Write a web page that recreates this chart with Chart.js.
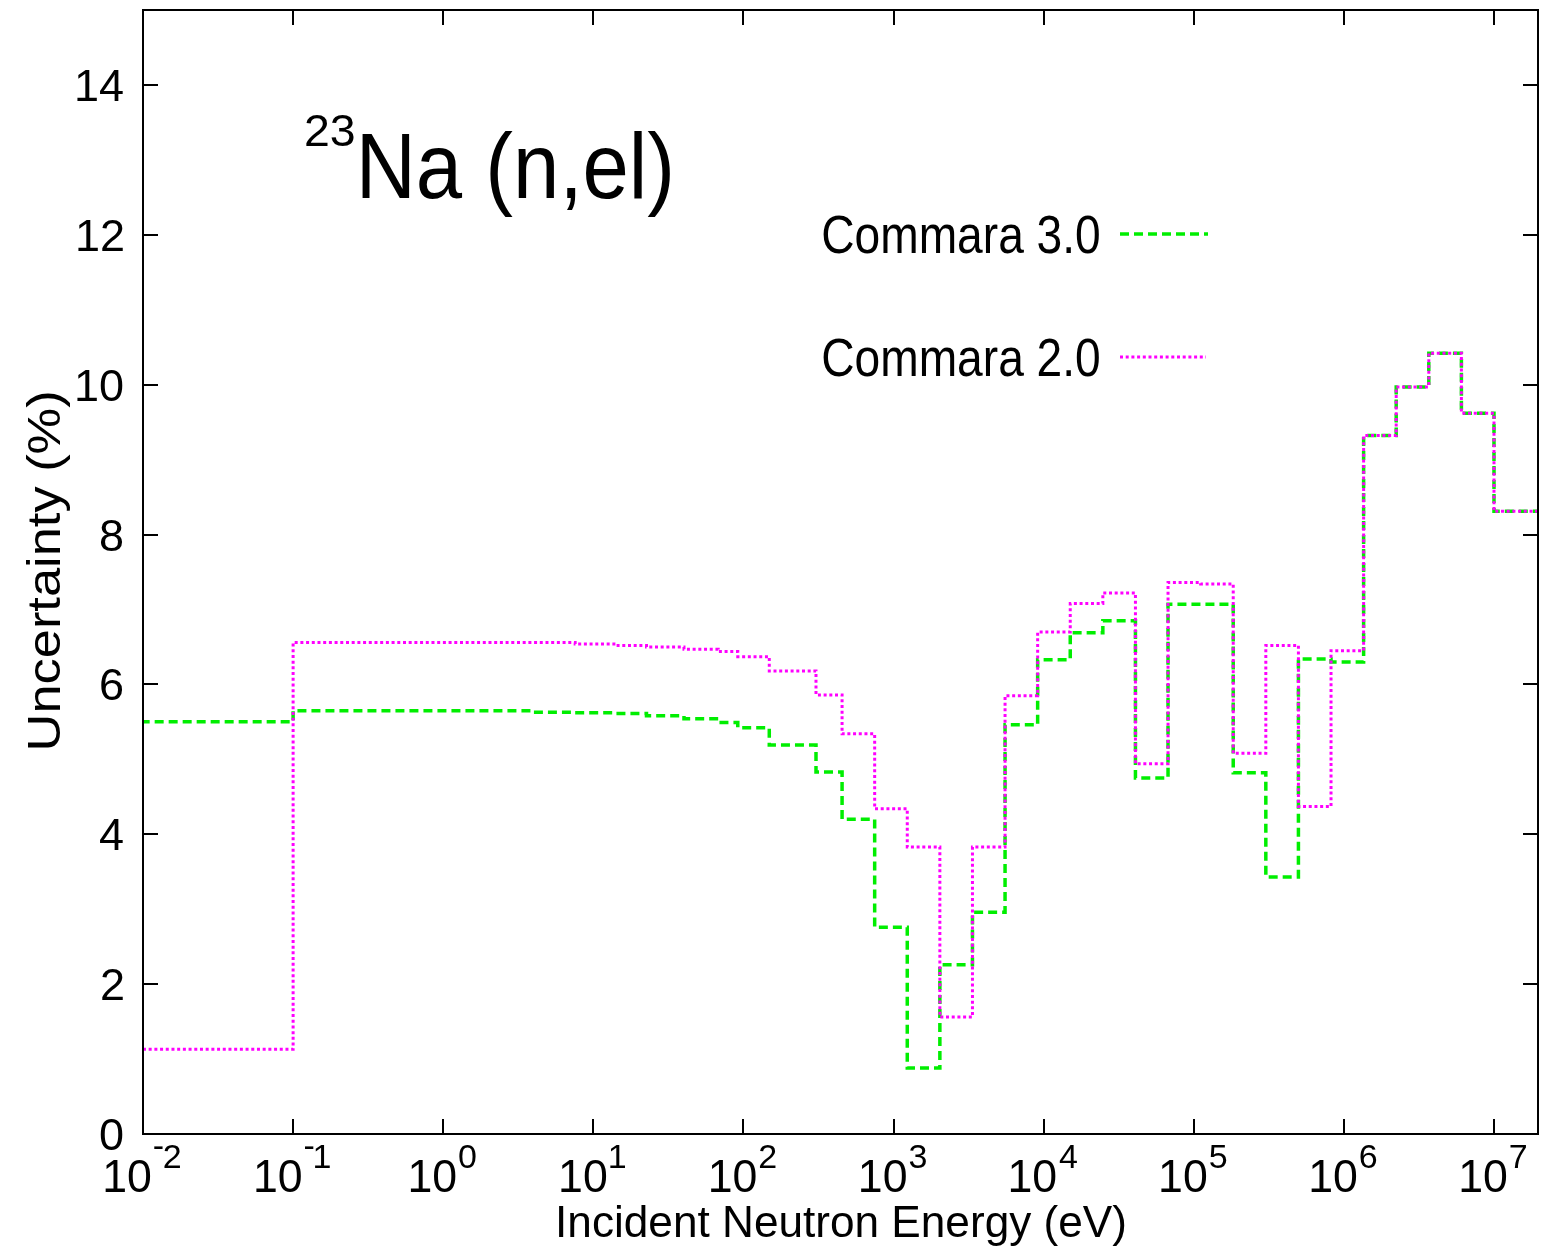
<!DOCTYPE html>
<html>
<head>
<meta charset="utf-8">
<script src="https://cdn.jsdelivr.net/npm/chart.js@4/dist/chart.umd.min.js"></script>
<style>
  html, body { margin: 0; padding: 0; background: #fff; }
  #wrap { width: 1554px; height: 1251px; }
</style>
</head>
<body>
<div id="wrap"><canvas id="uncChart" width="1554" height="1251"></canvas></div>
<script>
// 33-group energy boundaries (eV), ascending
const groupBounds = [1e-5, 0.1, 0.53158, 3.9279, 7.5674, 13.710, 22.603, 40.169, 67.904, 91.661,
  148.63, 304.32, 454.00, 748.52, 1234.1, 2034.7, 3354.6, 5530.8, 9118.8, 15034,
  24788, 40868, 67379, 111090, 183160, 301970, 497870, 820850, 1353400, 2231300,
  3678800, 6065300, 1.0e7, 1.964e7];

// group uncertainties (%), same order as groupBounds
const commara30 = [5.50, 5.65, 5.65, 5.63, 5.62, 5.61, 5.58, 5.54, 5.49, 5.42,
  5.19, 4.83, 4.20, 2.76, 0.88, 2.26, 2.96, 5.46, 6.33, 6.69,
  6.85, 4.75, 7.07, 7.07, 4.82, 3.43, 6.34, 6.30, 9.32, 9.97,
  10.42, 9.62, 8.31];
const commara20 = [1.13, 6.56, 6.56, 6.56, 6.54, 6.52, 6.50, 6.47, 6.44, 6.37,
  6.18, 5.86, 5.34, 4.34, 3.83, 1.56, 3.83, 5.85, 6.70, 7.08,
  7.22, 4.94, 7.36, 7.34, 5.08, 6.52, 4.37, 6.45, 9.32, 9.97,
  10.42, 9.62, 8.31];

const seriesNames = ['Commara 3.0', 'Commara 2.0'];
const xTickExps = [-2, -1, 0, 1, 2, 3, 4, 5, 6, 7];
const yTicks = [0, 2, 4, 6, 8, 10, 12, 14];
const xRange = [0.01, 1.964e7];
const yRange = [0, 15];

const FONT = '"Liberation Sans", Arial, Helvetica, sans-serif';
const GREEN = '#00ee00';
const MAGENTA = '#ff00ff';
const GREEN_DASH = [9, 5];
const MAGENTA_DASH = [3, 2.7];

// step histogram: one point per lower bound, plus the last upper bound
function toSteps(vals) {
  const pts = vals.map((v, i) => ({ x: groupBounds[i], y: v }));
  pts.push({ x: groupBounds[groupBounds.length - 1], y: vals[vals.length - 1] });
  return pts;
}

// draw text so its ink starts at `left`, optionally squeezed to a given ink width
function inkText(ctx, str, left, baseline, size, width) {
  ctx.font = size + 'px ' + FONT;
  ctx.textAlign = 'left';
  ctx.textBaseline = 'alphabetic';
  const m = ctx.measureText(str);
  const ink = m.actualBoundingBoxLeft + m.actualBoundingBoxRight;
  const sx = width ? width / ink : 1;
  ctx.save();
  ctx.translate(left, baseline);
  ctx.scale(sx, 1);
  ctx.fillText(str, m.actualBoundingBoxLeft, 0);
  ctx.restore();
  return ink * sx;
}

function inkWidth(ctx, str, size) {
  ctx.font = size + 'px ' + FONT;
  const m = ctx.measureText(str);
  return m.actualBoundingBoxLeft + m.actualBoundingBoxRight;
}

const framePlugin = {
  id: 'frame',
  afterDatasetsDraw(chart) {
    const { ctx, chartArea: a, scales: { x, y } } = chart;
    ctx.save();
    ctx.fillStyle = '#000';
    ctx.strokeStyle = '#000';
    ctx.lineWidth = 2;
    ctx.setLineDash([]);
    ctx.strokeRect(a.left, a.top, a.right - a.left, a.bottom - a.top);

    // inward ticks on all four sides
    const tl = 15;
    ctx.beginPath();
    yTicks.forEach(v => {
      const py = Math.round(y.getPixelForValue(v));
      ctx.moveTo(a.left, py); ctx.lineTo(a.left + tl, py);
      ctx.moveTo(a.right, py); ctx.lineTo(a.right - tl, py);
    });
    xTickExps.forEach(e => {
      const px = Math.round(x.getPixelForValue(Math.pow(10, e)));
      ctx.moveTo(px, a.bottom); ctx.lineTo(px, a.bottom - tl);
      ctx.moveTo(px, a.top); ctx.lineTo(px, a.top + tl);
    });
    ctx.stroke();

    // y tick labels
    yTicks.forEach(v => {
      const py = y.getPixelForValue(v);
      const s = String(v);
      const w = inkWidth(ctx, s, 45);
      inkText(ctx, s, a.left - 20 - w, py + 16, 45);
    });

    // x tick labels as 10 with a superscript exponent
    xTickExps.forEach(e => {
      const px = x.getPixelForValue(Math.pow(10, e));
      const baseW = inkWidth(ctx, '10', 47) * 0.95;
      const digits = String(Math.abs(e));
      const minusW = e < 0 ? inkWidth(ctx, '-', 34) : 0;
      const digW = inkWidth(ctx, digits, 34);
      const supW = (e < 0 ? minusW + 1 : 0) + digW;
      const left = px - (baseW + 3 + supW) / 2;
      inkText(ctx, '10', left, a.bottom + 58, 47, baseW);
      let sx = left + baseW + 3;
      if (e < 0) {
        inkText(ctx, '-', sx, a.bottom + 23, 34);
        sx += minusW + 1;
      }
      inkText(ctx, digits, sx, a.bottom + 34, 34);
    });

    // axis titles
    inkText(ctx, 'Incident Neutron Energy (eV)', 559, 1237, 45, 566);
    ctx.save();
    ctx.translate(60, 748);
    ctx.rotate(-Math.PI / 2);
    inkText(ctx, 'Uncertainty (%)', 0, 0, 46, 355);
    ctx.restore();

    // reaction label
    inkText(ctx, '23', 306, 146, 44, 48);
    inkText(ctx, 'Na (n,el)', 362, 198, 92, 308);

    // key
    inkText(ctx, seriesNames[0], 823, 253, 54, 276);
    inkText(ctx, seriesNames[1], 823, 376, 54, 276);
    ctx.lineWidth = 3.5;
    ctx.strokeStyle = GREEN;
    ctx.setLineDash(GREEN_DASH);
    ctx.beginPath(); ctx.moveTo(1120, 234); ctx.lineTo(1208, 234); ctx.stroke();
    ctx.lineWidth = 3;
    ctx.strokeStyle = MAGENTA;
    ctx.setLineDash(MAGENTA_DASH);
    ctx.beginPath(); ctx.moveTo(1120, 357); ctx.lineTo(1206, 357); ctx.stroke();
    ctx.restore();
  }
};

window.onload = function () {
  const ctx = document.getElementById('uncChart').getContext('2d');
  new Chart(ctx, {
    type: 'line',
    data: {
      datasets: [{
        label: seriesNames[0],
        data: toSteps(commara30),
        stepped: 'before',
        borderColor: GREEN,
        borderWidth: 3.5,
        borderDash: GREEN_DASH,
        pointRadius: 0,
        fill: false,
        order: 1
      }, {
        label: seriesNames[1],
        data: toSteps(commara20),
        stepped: 'before',
        borderColor: MAGENTA,
        borderWidth: 3,
        borderDash: MAGENTA_DASH,
        pointRadius: 0,
        fill: false,
        order: 0
      }]
    },
    options: {
      responsive: false,
      animation: false,
      parsing: false,
      layout: { padding: { left: 143, right: 16, top: 10, bottom: 117 } },
      plugins: { legend: { display: false }, tooltip: { enabled: false } },
      scales: {
        x: { type: 'logarithmic', min: xRange[0], max: xRange[1], display: false },
        y: { type: 'linear', min: yRange[0], max: yRange[1], display: false }
      }
    },
    plugins: [framePlugin]
  });
};
</script>
</body>
</html>
